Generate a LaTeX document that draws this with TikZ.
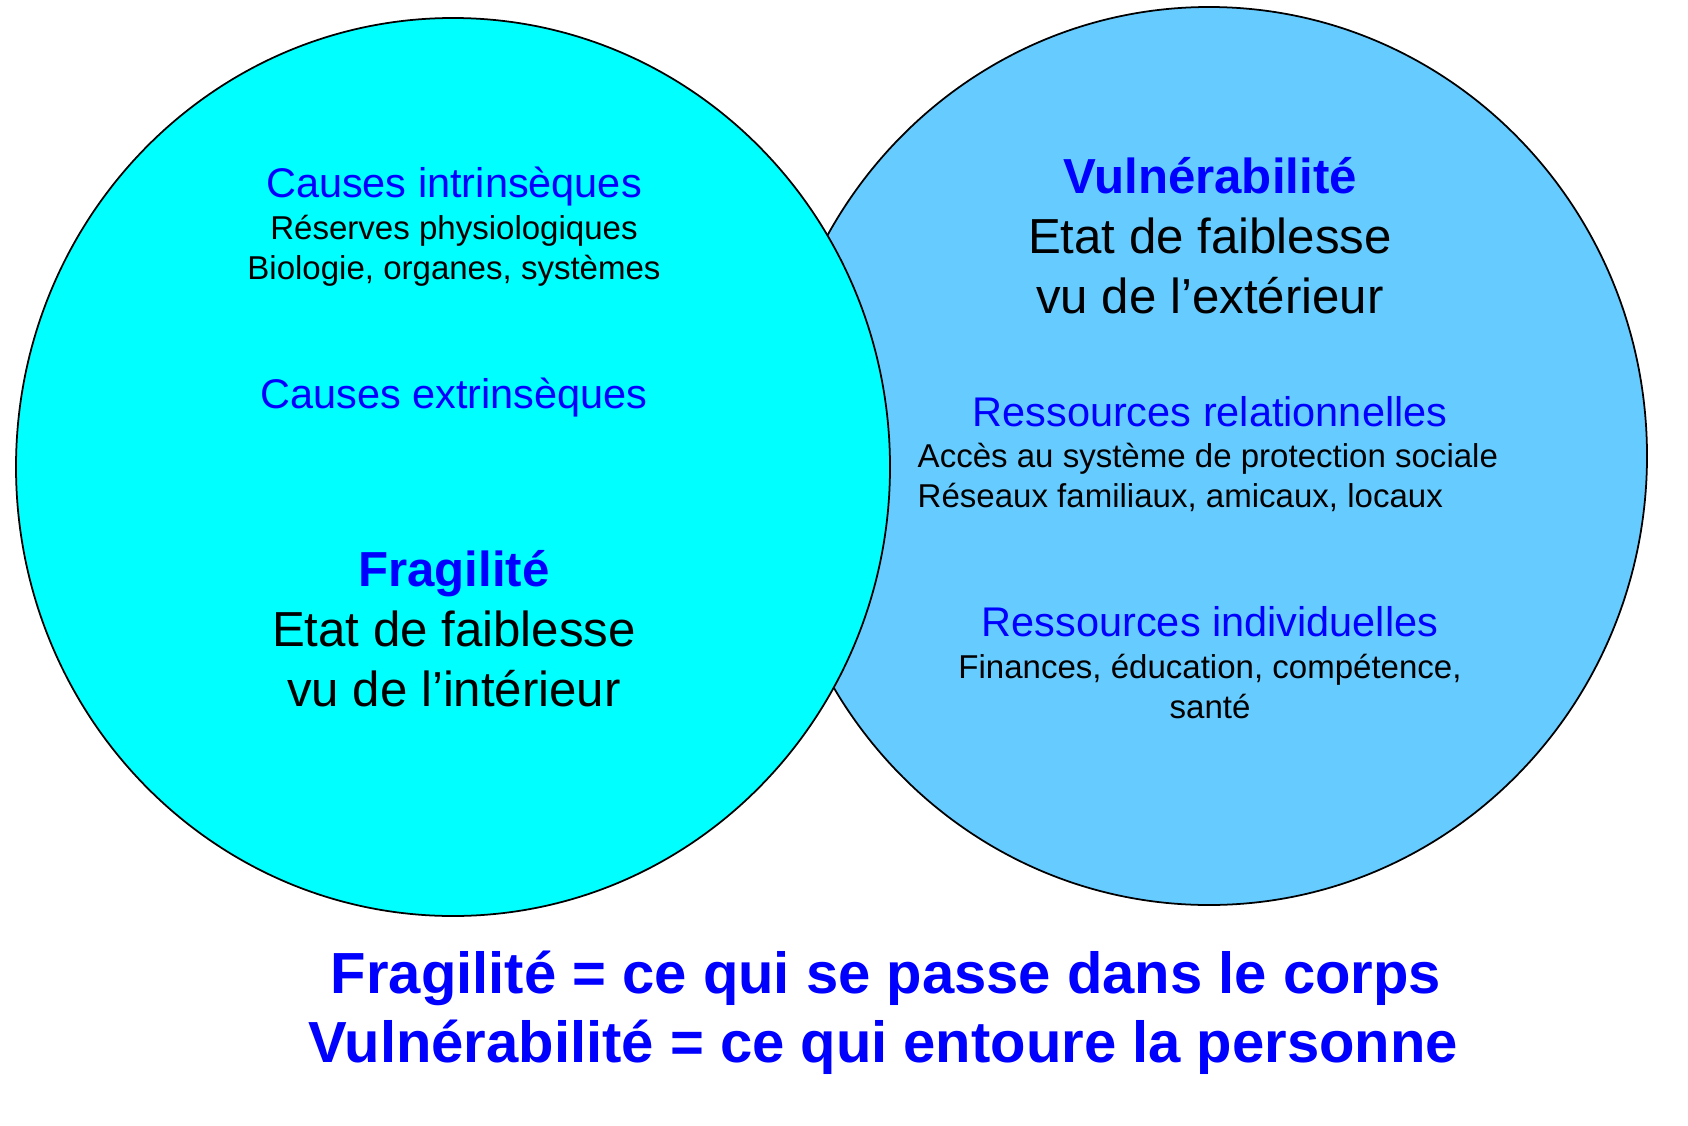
\documentclass[tikz,border=0pt]{standalone}
\usepackage{fontspec}
\setmainfont{Liberation Sans}
\usepackage{tikz}
\usetikzlibrary{positioning}
\definecolor{fragCyan}{RGB}{0, 255, 255}
\definecolor{vulnSky}{RGB}{102, 204, 255}
\definecolor{titleBlue}{RGB}{0, 0, 255}
\tikzset{
  headtext/.style={font=\fontsize{11.8pt}{14pt}\selectfont,text=titleBlue,anchor=base,inner sep=0pt},
  smalltext/.style={font=\fontsize{9.4pt}{11pt}\selectfont,anchor=base,inner sep=0pt},
  bigtext/.style={font=\fontsize{14pt}{17pt}\selectfont,anchor=base,inner sep=0pt},
  bigtitle/.style={font=\fontsize{14pt}{17pt}\selectfont\bfseries,text=titleBlue,anchor=base,inner sep=0pt},
  summary/.style={font=\fontsize{16.5pt}{20pt}\selectfont\bfseries,text=titleBlue,anchor=base,inner sep=0pt}
}
\begin{document}
\begin{tikzpicture}[x=0.1mm,y=-0.1mm]
                \useasboundingbox (0,0) rectangle (1688,1125);
                
                % Two overlapping circles
                \draw[line width=0.5pt,fill=vulnSky] (1209,456) ellipse [x radius=438, y radius=449];
                \draw[line width=0.5pt,fill=fragCyan] (453,467) ellipse [x radius=437, y radius=449];
                
                % Left side
                \node[headtext] (intr) at (454,197) {Causes intrinsèques};
                \node[smalltext] (reserves) at (454,239) {Réserves physiologiques};
                \node[smalltext] (biologie) at (454,279) {Biologie, organes, systèmes};
                \node[headtext] (extr) at (454,408) {Causes extrinsèques};
                
                \node[bigtitle] (frag) at (454,586) {Fragilité};
                \node[bigtext] (fragA) at (454,646) {Etat de faiblesse};
                \node[bigtext] (fragB) at (454,706) {vu de l’intérieur};
                
                % Right side
                \node[bigtitle] (vuln) at (1210,193) {Vulnérabilité};
                \node[bigtext] (vulnA) at (1210,253) {Etat de faiblesse};
                \node[bigtext] (vulnB) at (1210,313) {vu de l’extérieur};
                
                \node[headtext] (relat) at (1210,426) {Ressources relationnelles};
                \node[smalltext,anchor=base west] (acces) at (917,467) {Accès au système de protection sociale};
                \node[smalltext,anchor=base west] (reseaux) at (917,507) {Réseaux familiaux, amicaux, locaux};
                
                \node[headtext] (indiv) at (1210,636) {Ressources individuelles};
                \node[smalltext] (finances) at (1210,678) {Finances, éducation, compétence,};
                \node[smalltext] (sante) at (1210,718) {santé};
                
                % Summary
                \node[summary] (sumA) at (886,993) {Fragilité = ce qui se passe dans le corps};
                \node[summary] (sumB) at (883,1062) {Vulnérabilité = ce qui entoure la personne};
            \end{tikzpicture}
\end{document}
